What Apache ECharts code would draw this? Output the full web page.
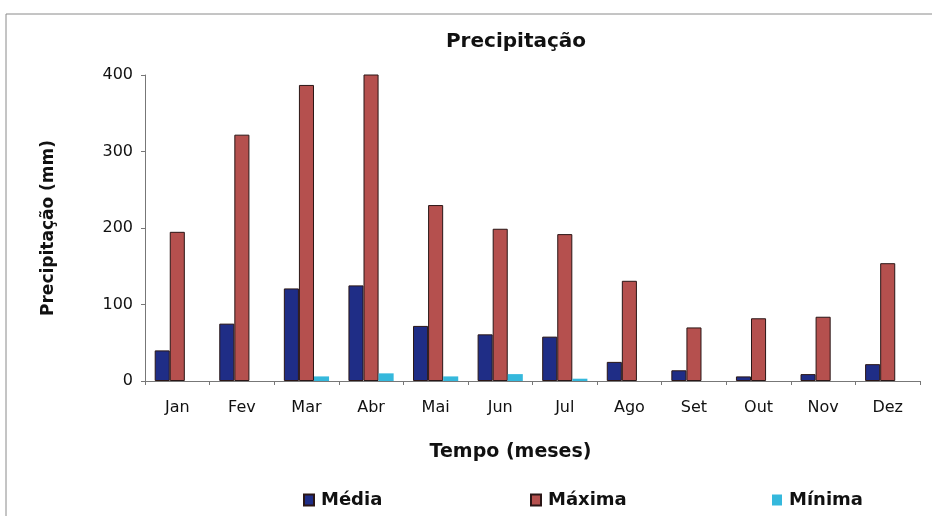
<!DOCTYPE html>
<html>
<head>
<meta charset="utf-8">
<script src="https://cdn.jsdelivr.net/npm/echarts@6/dist/echarts.min.js"></script>
<style>
  html, body { margin: 0; padding: 0; background: #fff; }
  #chart { width: 932px; height: 516px; }
</style>
</head>
<body>
<div id="chart"></div>
<script>
// meses e valores (mm)
const months = ['Jan', 'Fev', 'Mar', 'Abr', 'Mai', 'Jun', 'Jul', 'Ago', 'Set', 'Out', 'Nov', 'Dez']
const media = [40, 75, 121, 125, 72, 61, 58, 25, 14, 6, 9, 22]
const maxima = [195, 322, 387, 401, 230, 199, 192, 131, 70, 82, 84, 154]
const minima = [0, 0, 6, 10, 6, 9, 3, 0, 0, 0, 0, 0]
const yTicks = [0, 100, 200, 300, 400]

const chart = echarts.init(document.getElementById('chart'))
const font = 'DejaVu Sans, Verdana, sans-serif'
const barBorder = '#2a1616'

const legendStyle = (name, left) => ({
  data: [name],
  left: left,
  top: 486,
  icon: 'rect',
  itemWidth: 10,
  itemHeight: 11,
  textStyle: { fontFamily: font, fontSize: 18, fontWeight: 'bold', color: '#111', padding: [0, 0, 0, 2] }
})

const option = {
  backgroundColor: '#fff',
  animation: false,
  textStyle: { fontFamily: font },
  title: {
    text: 'Precipitação',
    left: 511,
    textAlign: 'center',
    top: 27,
    textStyle: { fontFamily: font, fontSize: 20, fontWeight: 'bold', color: '#111' }
  },
  graphic: [{
    type: 'polyline',
    shape: { points: [[6, 516], [6, 14], [932, 14]] },
    style: { stroke: '#8a8a8a', lineWidth: 1, fill: null }
  }],
  legend: [
    legendStyle('Média', 298),
    legendStyle('Máxima', 525),
    legendStyle('Mínima', 767)
  ],
  grid: { left: 145, right: 12, top: 75, bottom: 135 },
  xAxis: {
    type: 'category',
    data: months,
    name: 'Tempo (meses)',
    nameLocation: 'middle',
    nameGap: 62,
    nameTextStyle: { fontFamily: font, fontSize: 19, fontWeight: 'bold', color: '#111', padding: [0, 44, 0, 0] },
    axisLine: { lineStyle: { color: '#777' } },
    axisTick: { show: true, length: 4, lineStyle: { color: '#777' } },
    axisLabel: { fontFamily: font, fontSize: 16, color: '#111', margin: 19 }
  },
  yAxis: {
    type: 'value',
    min: yTicks[0],
    max: yTicks[yTicks.length - 1],
    interval: 100,
    name: 'Precipitação (mm)',
    nameLocation: 'middle',
    nameGap: 88,
    nameTextStyle: { fontFamily: font, fontSize: 17, fontWeight: 'bold', color: '#111' },
    axisLine: { show: true, lineStyle: { color: '#777' } },
    axisTick: { show: true, length: 4, lineStyle: { color: '#777' } },
    splitLine: { show: false },
    axisLabel: { fontFamily: font, fontSize: 16, color: '#111', margin: 12 }
  },
  series: [
    {
      name: 'Média',
      type: 'bar',
      data: media,
      barGap: '0%',
      barCategoryGap: '30%',
      itemStyle: { color: '#1f2d86', borderColor: barBorder, borderWidth: 1 }
    },
    {
      name: 'Máxima',
      type: 'bar',
      data: maxima,
      itemStyle: { color: '#b5504e', borderColor: barBorder, borderWidth: 1 }
    },
    {
      name: 'Mínima',
      type: 'bar',
      data: minima,
      itemStyle: { color: '#35b8dc', borderWidth: 0 }
    }
  ]
}

chart.setOption(option)
</script>
</body>
</html>
